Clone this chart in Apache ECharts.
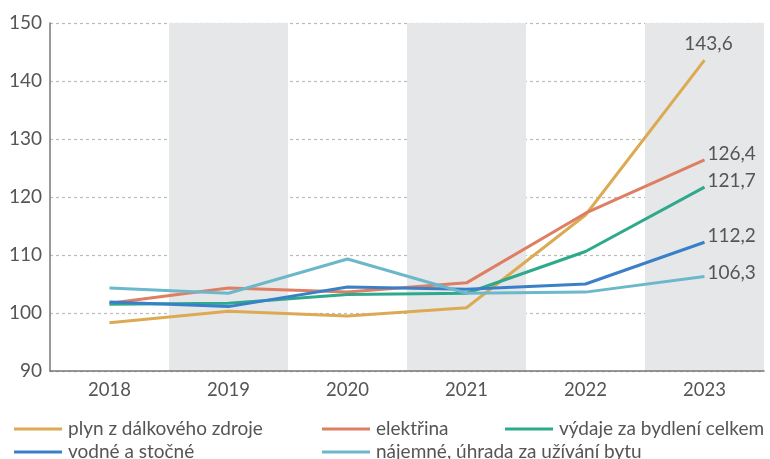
<!DOCTYPE html>
<html>
<head>
<meta charset="utf-8">
<script src="https://cdn.jsdelivr.net/npm/echarts@6/dist/echarts.min.js"></script>
<style>
  html, body { margin: 0; padding: 0; background: #fff; }
  #chart { width: 770px; height: 459px; }
</style>
</head>
<body>
<div id="chart"></div>
<script>
// roky a indexy (2018 = základ ~100)
const years = ['2018', '2019', '2020', '2021', '2022', '2023']
const plyn = [98.3, 100.3, 99.5, 100.9, 116.9, 143.6]
const elektrina = [101.7, 104.3, 103.6, 105.2, 117.2, 126.4]
const vydaje = [101.5, 101.7, 103.2, 103.4, 110.6, 121.7]
const vodne = [101.9, 101.1, 104.5, 104.1, 105.0, 112.2]
const najemne = [104.3, 103.4, 109.3, 103.4, 103.6, 106.3]

const font = 'Lato'
const textColor = '#555'

// popisek jen u posledního bodu
const lastLabel = (arr, pos, offset) => arr.map((v, i) => i === arr.length - 1
  ? { value: v, label: { show: true, position: pos, offset: offset, distance: 3,
      formatter: p => String(p.value).replace('.', ','), fontFamily: font, fontSize: 19, color: textColor } }
  : v)

const line = (name, data, color, pos, offset) => ({
  name: name,
  type: 'line',
  data: lastLabel(data, pos, offset),
  symbol: 'circle',
  symbolSize: 0,
  lineStyle: { width: 3, color: color },
  itemStyle: { color: color },
  emphasis: { disabled: true },
  z: 3
})

// jedna legenda na položku, ať sedí rozložení do dvou řádků
const legendItem = (name, left, top) => ({
  left: left,
  top: top,
  data: [name],
  itemWidth: 48,
  itemHeight: 3,
  icon: 'rect',
  textStyle: { fontFamily: font, fontSize: 19, lineHeight: 20, color: textColor, padding: [0, 0, 0, 1] }
})

const chart = echarts.init(document.getElementById('chart'))
chart.setOption({
  animation: false,
  grid: { left: 50, right: 6, top: 23, bottom: 88 },
  legend: [
    legendItem('plyn z dálkového zdroje', 9, 414),
    legendItem('vodné a stočné', 9, 437),
    legendItem('elektřina', 317, 414),
    legendItem('nájemné, úhrada za užívání bytu', 317, 437),
    legendItem('výdaje za bydlení celkem', 500, 414)
  ],
  xAxis: {
    type: 'category',
    data: years,
    boundaryGap: true,
    axisLine: { lineStyle: { color: '#777', width: 1.5 } },
    axisTick: { show: false },
    axisLabel: { fontFamily: font, fontSize: 18.5, color: textColor, margin: 10 },
    splitArea: { show: true, areaStyle: { color: ['rgba(0,0,0,0)', '#e6e7e9'] } }
  },
  yAxis: {
    type: 'value',
    min: 90,
    max: 150,
    interval: 10,
    axisLine: { show: true, lineStyle: { color: '#777', width: 1.5 } },
    axisTick: { show: false },
    axisLabel: { fontFamily: font, fontSize: 19, color: textColor, margin: 8 },
    splitLine: { lineStyle: { color: '#bbb', type: [3, 3], width: 1.2 } }
  },
  series: [
    line('plyn z dálkového zdroje', plyn, '#dcaa52', 'top', [4, -4]),
    line('elektřina', elektrina, '#de7e62', 'right', [0, -6]),
    line('výdaje za bydlení celkem', vydaje, '#2fa98c', 'right', [0, -6]),
    line('vodné a stočné', vodne, '#3a80c8', 'right', [0, -6]),
    line('nájemné, úhrada za užívání bytu', najemne, '#6cb8cb', 'right', [0, -4])
  ]
})
</script>
</body>
</html>
